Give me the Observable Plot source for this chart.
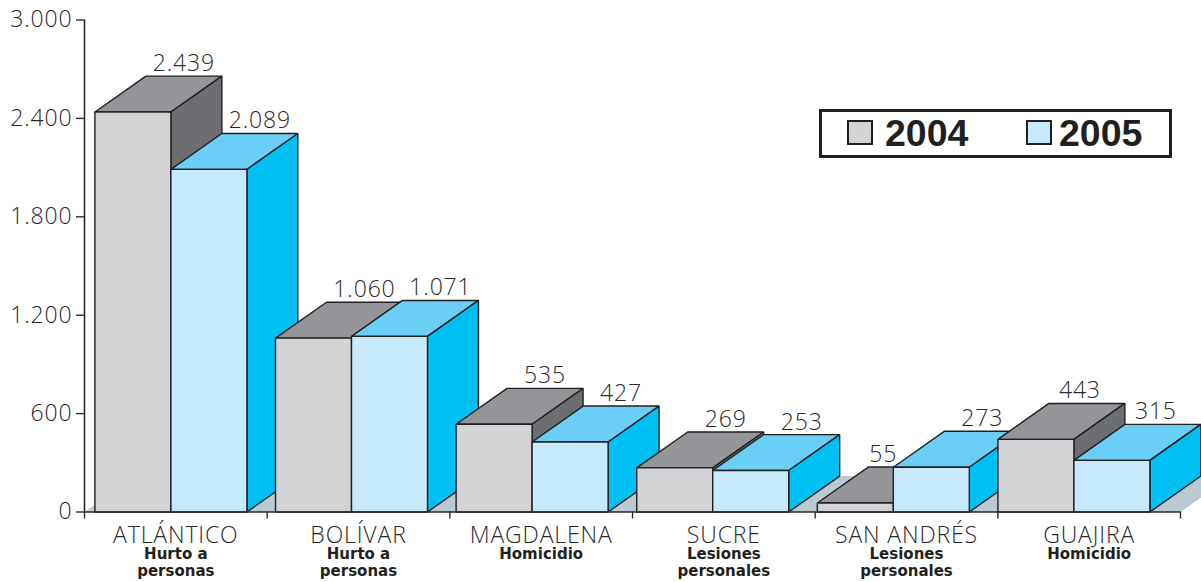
<!DOCTYPE html>
<html lang="es">
<head>
<meta charset="utf-8">
<script src="https://cdn.jsdelivr.net/npm/d3@7"></script>
<script src="https://cdn.jsdelivr.net/npm/@observablehq/plot@0.6"></script>
<style>
  html, body { margin: 0; padding: 0; background: #fff; }
  #chart { position: relative; width: 1201px; height: 582px; overflow: hidden; }
  #chart svg { display: block; }
  .thin text, text.thin, g.thin text { font-family: "Open Sans", sans-serif; font-weight: 300; letter-spacing: 0.85px; }
  #legend { position: absolute; left: 819px; top: 109px; width: 347px; height: 43px; border: 3px solid #231f20; background: #fff;
            font: bold 37.5px/42px "Liberation Sans", Arial, sans-serif; color: #231f20; }
  #legend i { position: absolute; top: 8px; width: 22px; height: 21px; border: 2px solid #231f20; }
  #legend span { position: absolute; top: 0; }
</style>
</head>
<body>
<div id="chart">
  <div id="legend"></div>
</div>
<script>
const categories = ["ATLÁNTICO", "BOLÍVAR", "MAGDALENA", "SUCRE", "SAN ANDRÉS", "GUAJIRA"];
const crimes = ["Hurto a\npersonas", "Hurto a\npersonas", "Homicidio", "Lesiones\npersonales", "Lesiones\npersonales", "Homicidio"];
const values2004 = [2439, 1060, 535, 269, 55, 443];
const values2005 = [2089, 1071, 427, 253, 273, 315];
const yTicks = [0, 600, 1200, 1800, 2400, 3000];
const years = ["2004", "2005"];

const faceNames = ["floor", "front2004", "top2004", "side2004", "front2005", "top2005", "side2005"];
const faceColors = ["#b9cad3", "#d1d3d4", "#939598", "#6d6e71", "#c7eafb", "#6bcef6", "#00bff3"];

// Oblique projection, in data units
const groupStep = 0.9887, groupStart = 0.057, barWidth = 0.416, depthX = 0.279, depthY = 219;
const thousands = d => d3.format(",")(d).replace(",", ".");

const floor = [[0, 0], [depthX, depthY], [6 + depthX, depthY], [6, 0]].map(([x, y]) => ({x, y, face: "floor"}));

const polys = [];
const poly = (id, face, pts) => pts.forEach(([x, y]) => polys.push({id, face, x, y}));

const labels = [];
categories.forEach((c, i) => {
  [values2004[i], values2005[i]].forEach((v, k) => {
    const x0 = i * groupStep + groupStart + k * barWidth, x1 = x0 + barWidth, yr = years[k], id = c + yr;
    poly(id + "top", "top" + yr, [[x0, v], [x0 + depthX, v + depthY], [x1 + depthX, v + depthY], [x1, v]]);
    poly(id + "side", "side" + yr, [[x1, 0], [x1 + depthX, depthY], [x1 + depthX, v + depthY], [x1, v]]);
    poly(id + "front", "front" + yr, [[x0, 0], [x1, 0], [x1, v], [x0, v]]);
    labels.push({x: (x0 + x1) / 2 + depthX, y: v + depthY, v, c, k});
  });
});
// The three labels the reference sets further left of their bar's back edge
const shifted = labels.map(d => ({
  ...d,
  dx: d.v === 55 ? -23 : d.c === "GUAJIRA" ? -7 : 0
}));

const mids = categories.map((_, i) => i + 0.5);
const ink = "#2b292a";

const plot = Plot.plot({
  width: 1201,
  height: 582,
  marginLeft: 84,
  marginRight: 21,
  marginTop: 19.5,
  marginBottom: 70.5,
  style: {background: "#fff", overflow: "hidden"},
  x: {domain: [0, 6]},
  y: {domain: [0, 3000]},
  color: {domain: faceNames, range: faceColors},
  marks: [
    Plot.line(floor, {x: "x", y: "y", fill: "face", stroke: "none", curve: "linear-closed"}),
    Plot.line(polys, {x: "x", y: "y", z: "id", fill: "face", stroke: "#231f20", strokeWidth: 1.4, curve: "linear-closed", strokeLinejoin: "miter"}),
    Plot.ruleX([0], {stroke: ink, strokeWidth: 1.6}),
    Plot.ruleY([0], {stroke: ink, strokeWidth: 1.6}),
    Plot.axisY({ticks: yTicks, tickSize: 8, tickPadding: 4, tickFormat: thousands, fontSize: 23, stroke: ink, fill: ink, strokeWidth: 1.4, label: null, className: "thin"}),
    Plot.axisX({ticks: d3.range(7), tickSize: 7, tickFormat: () => "", stroke: ink, strokeWidth: 1.4, label: null}),
    Plot.text(mids.map((m, i) => ({m, t: categories[i]})), {x: "m", y: () => 0, text: "t", dy: 31, lineAnchor: "bottom", fontSize: 23, fill: ink, className: "thin"}),
    Plot.text(mids.map((m, i) => ({m, t: crimes[i]})), {x: "m", y: () => 0, text: "t", dy: 35, lineAnchor: "top", lineHeight: 1.13, fontSize: 15, fontWeight: 700, fontFamily: "DejaVu Sans", fill: "#231f20"}),
    ...shifted.map(d => Plot.text([d], {x: "x", y: "y", text: t => thousands(t.v), dx: d.dx, dy: -5, lineAnchor: "bottom", fontSize: 23, fill: ink, className: "thin"}))
  ]
});
document.getElementById("chart").prepend(plot);

const legend = document.getElementById("legend");
[[25, 63, faceColors[1], years[0]], [204, 237, faceColors[4], years[1]]].forEach(([sw, tx, col, label]) => {
  const i = document.createElement("i");
  i.style.left = sw + "px"; i.style.background = col;
  const s = document.createElement("span");
  s.style.left = tx + "px"; s.textContent = label;
  legend.append(i, s);
});
</script>
</body>
</html>
